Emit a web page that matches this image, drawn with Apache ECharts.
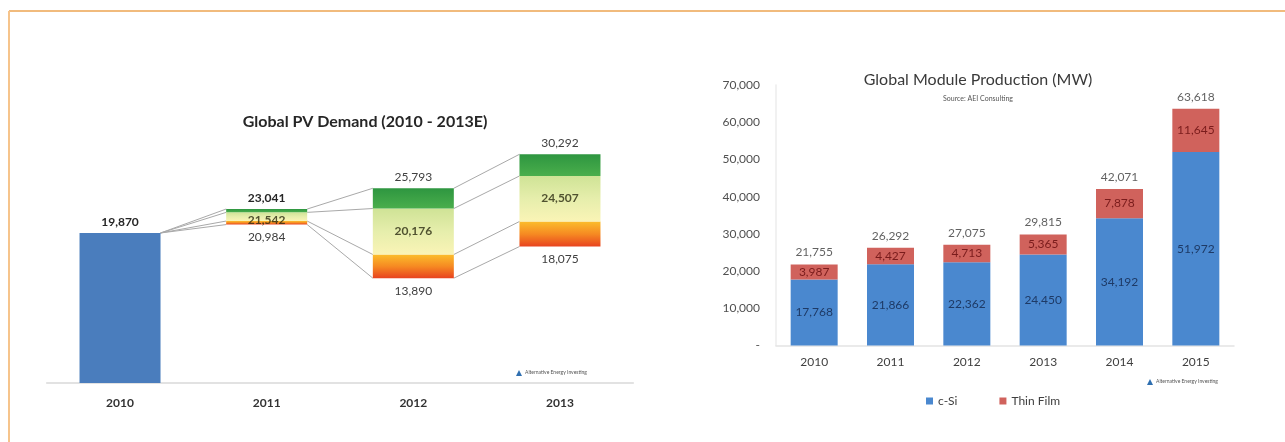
<!DOCTYPE html>
<html>
<head>
<meta charset="utf-8">
<script src="https://cdn.jsdelivr.net/npm/echarts@6/dist/echarts.min.js"></script>
<style>
  html, body { margin: 0; padding: 0; background: #ffffff; }
  #chart { width: 1285px; height: 442px; }
</style>
</head>
<body>
<div id="chart"></div>
<script>
// Global PV demand scenarios (MW)
const pvYears = ['2010', '2011', '2012', '2013'];
const pvHigh = [19870, 23041, 25793, 30292];
const pvBase = [19870, 21542, 20176, 24507];
const pvLow = [19870, 20984, 13890, 18075];
// Boundaries between the high (green), mid (yellow) and low (orange) bands
const pvGreenFloor = [null, 22600, 23110, 27420];
const pvOrangeTop = [null, 21450, 17020, 21390];

// Global module production (MW)
const modYears = ['2010', '2011', '2012', '2013', '2014', '2015'];
const cSi = [17768, 21866, 22362, 24450, 34192, 51972];
const thinFilm = [3987, 4427, 4713, 5365, 7878, 11645];
const modTotal = [21755, 26292, 27075, 29815, 42071, 63618];
const modTickLabels = ['-', '10,000', '20,000', '30,000', '40,000', '50,000', '60,000', '70,000'];

const FONT = 'Lato, "Open Sans", sans-serif';
const fmt = v => Number(v).toLocaleString('en-US');
const grad = stops => new echarts.graphic.LinearGradient(0, 0, 0, 1,
  stops.map((c, i) => ({ offset: i / (stops.length - 1), color: c })));

const PV_BAR = 81;
const dash = '-';
const scenario = (fn) => pvYears.map((_, i) => i === 0 ? dash : fn(i));

// Connectors between consecutive scenario boxes, one per band edge
const connectors = [];
for (let i = 0; i < pvYears.length - 1; i++) {
  const from = i === 0
    ? [pvHigh[0], pvHigh[0], pvHigh[0], pvHigh[0]]
    : [pvHigh[i], pvGreenFloor[i], pvOrangeTop[i], pvLow[i]];
  const to = [pvHigh[i + 1], pvGreenFloor[i + 1], pvOrangeTop[i + 1], pvLow[i + 1]];
  for (let k = 0; k < 4; k++) connectors.push([i, from[k], i + 1, to[k]]);
}

const chart = echarts.init(document.getElementById('chart'), null, { renderer: 'canvas' });

const option = {
  backgroundColor: '#ffffff',
  animation: false,
  textStyle: { fontFamily: FONT },
  title: [
    {
      text: 'Global PV Demand (2010 - 2013E)',
      left: 360, top: 109, textAlign: 'center',
      textStyle: { fontFamily: FONT, fontSize: 16, fontWeight: 'bold', color: '#262626' }
    },
    {
      text: 'Global Module Production (MW)',
      subtext: 'Source: AEI Consulting',
      left: 973, top: 67, textAlign: 'center', itemGap: 7,
      textStyle: { fontFamily: FONT, fontSize: 16, fontWeight: 'normal', color: '#3a3a3a' },
      subtextStyle: { fontFamily: FONT, fontSize: 7, color: '#555555' }
    }
  ],
  legend: {
    data: ['c-Si', 'Thin Film'],
    left: 921, top: 390,
    icon: 'rect', itemWidth: 7, itemHeight: 7, itemGap: 42,
    textStyle: { fontFamily: FONT, fontSize: 12, color: '#404040' }
  },
  grid: [
    { left: 46.7, right: 651.7, top: 118.75, bottom: 59 },
    { left: 776, right: 51, top: 85, bottom: 96.5 }
  ],
  xAxis: [
    {
      type: 'category', gridIndex: 0, data: pvYears,
      axisLine: { lineStyle: { color: '#d9d9d9', width: 1.5 } },
      axisTick: { show: false },
      axisLabel: { margin: 14, fontFamily: FONT, fontSize: 12, fontWeight: 'bold', color: '#333333' }
    },
    {
      type: 'category', gridIndex: 1, data: modYears,
      axisLine: { lineStyle: { color: '#e3e3e3', width: 1.5 } },
      axisTick: { show: false },
      axisLabel: { margin: 11, fontFamily: FONT, fontSize: 12, color: '#404040' }
    }
  ],
  yAxis: [
    { type: 'value', gridIndex: 0, min: 0, max: 35000, show: false },
    {
      type: 'value', gridIndex: 1, min: 0, max: 70000, interval: 10000,
      axisLine: { show: true, lineStyle: { color: '#ececec', width: 1.5 } },
      axisTick: { show: false },
      splitLine: { show: false },
      axisLabel: {
        margin: 16, fontFamily: FONT, fontSize: 12, color: '#505050',
        formatter: v => modTickLabels[Math.round(v / 10000)]
      }
    }
  ],
  series: [
    // ---- PV demand ----
    {
      name: 'Actual', type: 'bar', xAxisIndex: 0, yAxisIndex: 0, stack: 'pv', barWidth: PV_BAR,
      data: pvYears.map((_, i) => i === 0 ? pvBase[0] : dash),
      itemStyle: { color: '#4a7dbd' },
      label: {
        show: true, position: 'top', distance: 5, formatter: p => fmt(p.value),
        fontFamily: FONT, fontSize: 12, fontWeight: 'bold', color: '#262626'
      }
    },
    {
      name: 'Low bound', type: 'bar', xAxisIndex: 0, yAxisIndex: 0, stack: 'pv', barWidth: PV_BAR,
      data: scenario(i => pvLow[i]),
      itemStyle: { color: 'rgba(0,0,0,0)' },
      label: {
        show: true, position: 'insideTop', distance: 7, formatter: p => fmt(p.value),
        fontFamily: FONT, fontSize: 12, color: '#404040'
      }
    },
    {
      name: 'Low case', type: 'bar', xAxisIndex: 0, yAxisIndex: 0, stack: 'pv', barWidth: PV_BAR,
      data: scenario(i => pvOrangeTop[i] - pvLow[i]),
      itemStyle: { color: grad(['#fbbd2c', '#f68a22', '#e8431f']) }
    },
    {
      name: 'Mid case', type: 'bar', xAxisIndex: 0, yAxisIndex: 0, stack: 'pv', barWidth: PV_BAR,
      data: scenario(i => pvGreenFloor[i] - pvOrangeTop[i]),
      itemStyle: { color: grad(['#cfe396', '#e6eeac', '#faf4b6']) }
    },
    {
      name: 'High case', type: 'bar', xAxisIndex: 0, yAxisIndex: 0, stack: 'pv', barWidth: PV_BAR,
      data: scenario(i => ({
        value: pvHigh[i] - pvGreenFloor[i],
        label: i === 1 ? { fontWeight: 'bold', color: '#262626' } : {}
      })),
      itemStyle: { color: grad(['#2e9640', '#4aae4c']) },
      label: {
        show: true, position: 'top', distance: 5,
        formatter: p => fmt(pvHigh[p.dataIndex]),
        fontFamily: FONT, fontSize: 12, color: '#404040'
      }
    },
    {
      name: 'Base case', type: 'scatter', xAxisIndex: 0, yAxisIndex: 0, symbolSize: 0,
      data: pvYears.map((y, i) => i === 0 ? null : [y, pvBase[i]]).filter(Boolean),
      label: {
        show: true, position: 'inside', formatter: p => fmt(p.value[1]),
        fontFamily: FONT, fontSize: 12, fontWeight: 'bold', color: '#2a2a10'
      },
      z: 5
    },
    {
      name: 'Connectors', type: 'custom', xAxisIndex: 0, yAxisIndex: 0,
      encode: { x: [0, 2], y: [1, 3] },
      data: connectors,
      renderItem: (params, api) => {
        const a = api.coord([api.value(0), api.value(1)]);
        const b = api.coord([api.value(2), api.value(3)]);
        return {
          type: 'line',
          shape: { x1: a[0] + PV_BAR / 2, y1: a[1], x2: b[0] - PV_BAR / 2, y2: b[1] },
          style: { stroke: '#a9a9a9', lineWidth: 1 }
        };
      },
      z: 1
    },
    // ---- Module production ----
    {
      name: 'c-Si', type: 'bar', xAxisIndex: 1, yAxisIndex: 1, stack: 'mod', barWidth: 47,
      data: cSi,
      itemStyle: { color: '#4a88cf' },
      label: {
        show: true, position: 'inside', formatter: p => fmt(p.value),
        fontFamily: FONT, fontSize: 12, color: '#1e3a66'
      }
    },
    {
      name: 'Thin Film', type: 'bar', xAxisIndex: 1, yAxisIndex: 1, stack: 'mod', barWidth: 47,
      data: thinFilm,
      itemStyle: { color: '#d0625c' },
      label: {
        show: true, position: 'inside', formatter: p => fmt(p.value),
        fontFamily: FONT, fontSize: 12, color: '#7a1c1c'
      }
    },
    {
      name: 'Total', type: 'scatter', xAxisIndex: 1, yAxisIndex: 1, symbolSize: 0,
      data: modTotal,
      label: {
        show: true, position: 'top', distance: 6, formatter: p => fmt(p.value),
        fontFamily: FONT, fontSize: 12, color: '#3a3a3a'
      }
    }
  ],
  graphic: [
    // page frame
    { type: 'line', shape: { x1: 9, y1: 11, x2: 1285, y2: 11 }, style: { stroke: '#eda552', lineWidth: 1.5 }, silent: true },
    { type: 'line', shape: { x1: 9, y1: 11, x2: 9, y2: 442 }, style: { stroke: '#f6c48c', lineWidth: 2 }, silent: true },
    // publisher marks
    { type: 'polygon', shape: { points: [[516, 376], [519, 370], [522, 376]] }, style: { fill: '#2f6fb0' }, silent: true },
    { type: 'text', left: 525, top: 370, style: { text: 'Alternative Energy Investing', font: '5px ' + FONT, fill: '#555555' }, silent: true },
    { type: 'polygon', shape: { points: [[1147, 385], [1150, 379], [1153, 385]] }, style: { fill: '#2f6fb0' }, silent: true },
    { type: 'text', left: 1156, top: 379, style: { text: 'Alternative Energy Investing', font: '5px ' + FONT, fill: '#555555' }, silent: true }
  ]
};

chart.setOption(option);
</script>
</body>
</html>
